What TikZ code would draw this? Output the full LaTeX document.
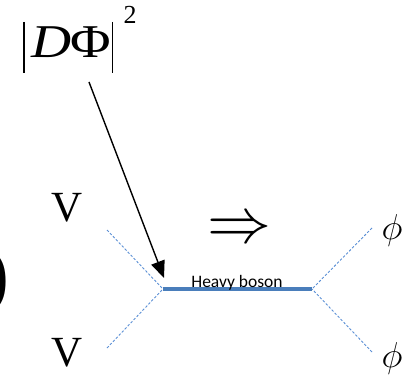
\RequirePackage{fix-cm}
\documentclass[tikz,border=0pt]{standalone}
\usepackage{fontspec}
\newfontfamily\tnrfont{Liberation Serif}
\newfontfamily\carfont{Carlito}
\usetikzlibrary{arrows.meta}
\definecolor{dashblue}{HTML}{5B8FD5}
\definecolor{solidblue}{HTML}{4A7EBB}
\tikzset{
  x=1pt,y=-1pt,
  leg/.style={dashblue,line width=0.9pt,dash pattern=on 2.5pt off 1.8pt},
  prop/.style={solidblue,line width=3.8pt},
  bigtxt/.style={inner sep=0pt,font=\tnrfont\fontsize{43}{46}\selectfont},
  phitxt/.style={inner sep=0pt,font=\fontsize{36}{38}\selectfont},
  bar/.style={black,line width=1.5pt},
}
\begin{document}
\begin{tikzpicture}
\useasboundingbox (0,0) rectangle (406,374);
\clip (0,0) rectangle (406,374);
% |D Phi|^2
\node[inner sep=0pt,anchor=base west,xscale=1.18,font=\tnrfont\fontsize{47}{50}\selectfont] (dphi) at (31,58) {\textit{D}\kern-1pt\textup{Φ}};
\coordinate (b1t) at (24,22); \coordinate (b1b) at (24,73);
\coordinate (b2t) at (112.5,22); \coordinate (b2b) at (112.5,73);
\draw[bar] (b1t) -- (b1b);
\draw[bar] (b2t) -- (b2b);
\node[inner sep=0pt,font=\tnrfont\fontsize{26}{28}\selectfont] (sq) at (130,15) {2};
% arrow
\coordinate (astart) at (89,82);
\coordinate (atip) at (164,278);
\draw[black,line width=1.4pt,-{Triangle[length=17pt,width=14pt]}] (astart) -- (atip);
% labels V
\node[bigtxt] (v1) at (67.5,208) {V};
\node[bigtxt] (v2) at (67.5,353) {V};
% paren
\node[inner sep=0pt,font=\tnrfont\fontsize{78}{80}\selectfont,anchor=east] (par) at (10,282) {)};
% Rightarrow
\node[inner sep=0pt,font=\fontsize{64}{66}\selectfont] (imp) at (239,231) {$\Rightarrow$};
% diagram
\coordinate (vl) at (163,289);
\coordinate (vr) at (312,289);
\coordinate (ul) at (107,230);
\coordinate (ll) at (107,348);
\coordinate (ur) at (372,228);
\coordinate (lr) at (372,352);
\draw[leg] (ul) -- (vl);
\draw[leg] (ll) -- (vl);
\draw[leg] (ur) -- (vr);
\draw[leg] (lr) -- (vr);
\draw[prop] (vl) -- (vr);
\node[inner sep=0pt,anchor=base,font=\carfont\fontsize{17.5}{18}\selectfont] (hb) at (237,287) {Heavy boson};
\node[phitxt] (p1) at (392,230) {$\phi$};
\node[phitxt] (p2) at (392,358) {$\phi$};
\end{tikzpicture}
\end{document}
